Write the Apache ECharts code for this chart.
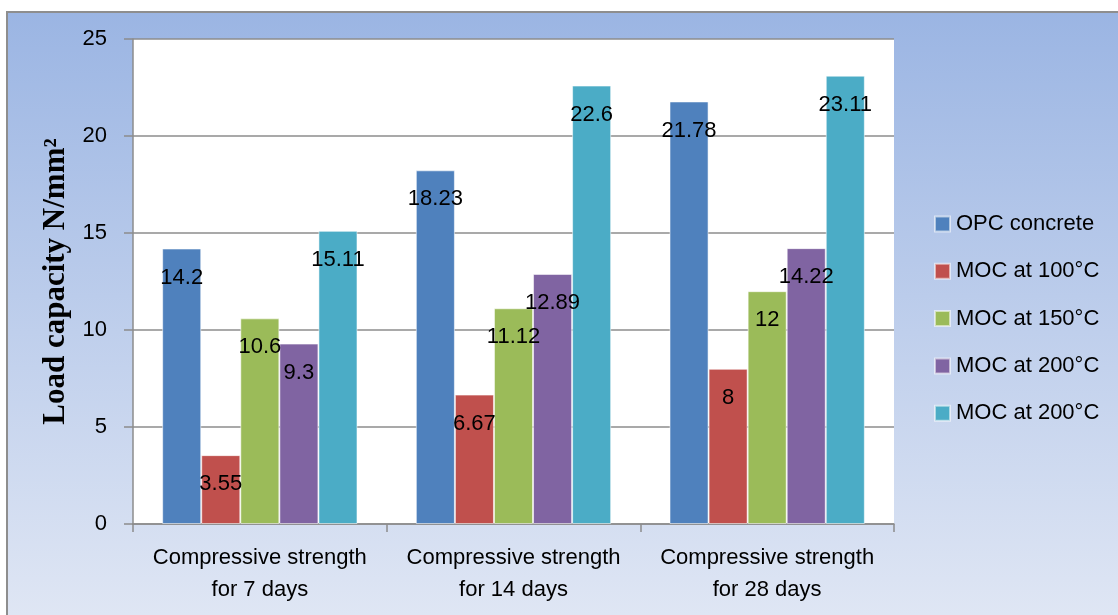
<!DOCTYPE html>
<html>
<head>
<meta charset="utf-8">
<script src="https://cdn.jsdelivr.net/npm/echarts@6/dist/echarts.min.js"></script>
<style>
  html, body { margin: 0; padding: 0; background: #ffffff; overflow: hidden; }
  #frame {
    position: absolute; left: 6px; top: 11px; width: 1200px; height: 700px;
    border-left: 2px solid #8e8e8e; border-top: 2px solid #8e8e8e;
    background: linear-gradient(to bottom, #9bb5e3 0px, #dfe6f4 602px);
  }
  #chart { position: absolute; left: 0; top: 0; width: 1118px; height: 615px; }
</style>
</head>
<body>
<div id="frame"></div>
<div id="chart"></div>
<script>
// Compressive strength test results, in N/mm²
const categories = [
  'Compressive strength\nfor 7 days',
  'Compressive strength\nfor 14 days',
  'Compressive strength\nfor 28 days'
];
const seriesNames = [
  'OPC concrete',
  'MOC at 100°C',
  'MOC at 150°C',
  'MOC at 200°C',
  'MOC at 200°C '
];
const opcConcrete = [14.2, 18.23, 21.78];
const moc100 = [3.55, 6.67, 8];
const moc150 = [10.6, 11.12, 12];
const moc200 = [9.3, 12.89, 14.22];
const moc200b = [15.11, 22.6, 23.11];
const yTicks = { min: 0, max: 25, interval: 5 };

const palette = ['#4f81bd', '#c0504d', '#9bbb59', '#8064a2', '#4bacc6'];
const values = [opcConcrete, moc100, moc150, moc200, moc200b];

const chart = echarts.init(document.getElementById('chart'), null, { renderer: 'canvas' });

const fontSans = '"Liberation Sans", Arial, sans-serif';

chart.setOption({
  backgroundColor: 'transparent',
  animation: false,
  color: palette,
  grid: {
    left: 133, right: 224, top: 39, bottom: 91,
    show: true, backgroundColor: '#ffffff', borderWidth: 0
  },
  legend: {
    orient: 'vertical',
    left: 929,
    top: 208,
    padding: 5,
    itemWidth: 15,
    itemHeight: 15,
    itemGap: 25.3,
    icon: 'rect',
    data: seriesNames,
    textStyle: { fontFamily: fontSans, fontSize: 22, color: '#000', lineHeight: 22, padding: [0, 0, 0, 1] }
  },
  xAxis: {
    type: 'category',
    data: categories,
    axisLine: { lineStyle: { color: '#8c8c8c', width: 1.5 } },
    axisTick: { show: true, length: 8, lineStyle: { color: '#8c8c8c', width: 1.5 } },
    axisLabel: {
      fontFamily: fontSans, fontSize: 22, color: '#000', lineHeight: 32, margin: 18,
      interval: 0
    }
  },
  yAxis: {
    type: 'value',
    min: yTicks.min, max: yTicks.max, interval: yTicks.interval,
    name: 'Load capacity N/mm²',
    nameLocation: 'middle',
    nameGap: 60,
    nameTextStyle: {
      fontFamily: '"Liberation Serif", "Times New Roman", serif',
      fontWeight: 'bold', fontSize: 31, color: '#000'
    },
    axisLine: { show: true, lineStyle: { color: '#8c8c8c', width: 1.5 } },
    axisTick: { show: true, length: 9, lineStyle: { color: '#8c8c8c', width: 1.5 } },
    splitLine: { lineStyle: { color: '#8c8c8c', width: 1.5 } },
    axisLabel: { fontFamily: fontSans, fontSize: 22, color: '#000', margin: 26 }
  },
  series: seriesNames.map((name, i) => ({
    name: name,
    type: 'bar',
    data: values[i],
    barGap: '0%',
    barCategoryGap: '23%',
    itemStyle: { color: palette[i], borderColor: 'rgba(255,255,255,0.55)', borderWidth: 1 },
    label: {
      show: true,
      position: 'insideTop',
      distance: 18,
      fontFamily: fontSans,
      fontSize: 22,
      color: '#000'
    }
  }))
});
</script>
</body>
</html>
